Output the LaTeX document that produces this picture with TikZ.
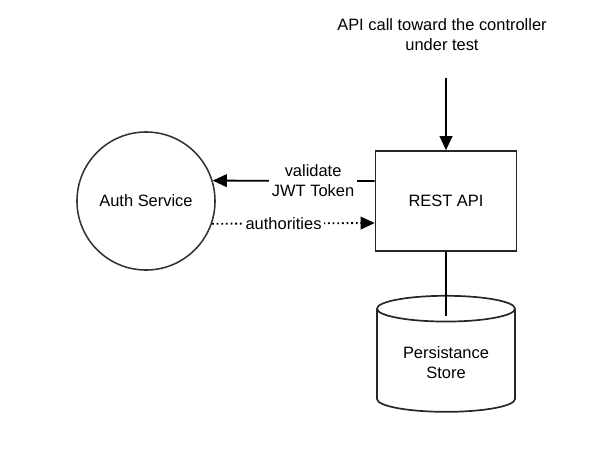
\documentclass[tikz,border=0pt]{standalone}
\usepackage{fontspec}
\setmainfont{Liberation Sans}
\usetikzlibrary{arrows.meta,shapes.geometric,positioning,calc}

\begin{document}
\begin{tikzpicture}[
    x=0.025cm, y=-0.025cm,
    every node/.style={font=\fontsize{11.7}{14.2}\selectfont},
    service/.style={circle, draw=black!80, line width=1.1pt, minimum size=3.45cm},
    api/.style={rectangle, draw=black!85, line width=1.2pt, minimum width=3.525cm, minimum height=2.5cm},
    store/.style={cylinder, shape border rotate=90, aspect=0.27, draw=black!85, line width=1.2pt,
        minimum width=3.45cm, minimum height=2.9cm, align=center},
    arrow/.style={-{Triangle[length=10pt, width=9pt]}, line width=1.3pt},
    gap/.style={fill=white, inner sep=2pt, align=center}
]

\useasboundingbox (0,0) rectangle (600,470);

% Services
\node[service] (auth) at (146,201) {Auth Service};
\node[api] (rest) at (446,201) {REST API};
\node[store] (db) at (446,363) {Persistance\\Store};

% Incoming call
\node[align=center] (call) at (442,35) {API call toward the controller\\under test};
\coordinate (callstart) at (446,78);
\coordinate (dbtop) at (446,316);
\draw[arrow] (callstart) -- (rest.north);

% Auth exchange
\draw[arrow] ($(rest.west)+(0,-20)$) -- node[gap, pos=0.38] {validate\\JWT Token} (auth.17);
\draw[arrow, dotted] (auth.-19) -- node[gap, pos=0.44] {authorities} ($(rest.west)+(0,22)$);

% Storage
\draw[line width=1.3pt] (rest.south) -- (dbtop);

\end{tikzpicture}
\end{document}
